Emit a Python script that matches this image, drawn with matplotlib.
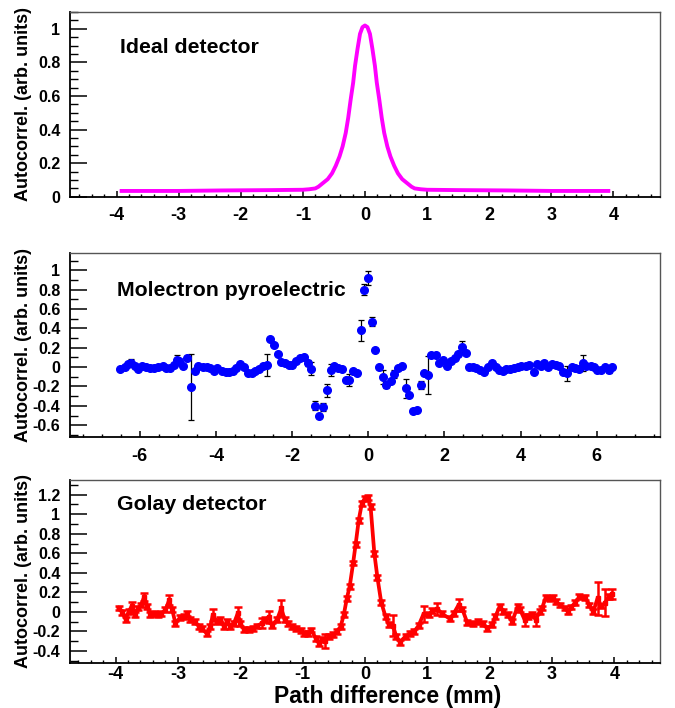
import matplotlib.pyplot as plt
from matplotlib.ticker import MultipleLocator, FormatStrFormatter

plt.rcParams['font.family'] = ['Liberation Sans', 'DejaVu Sans']
plt.rcParams['font.weight'] = 'bold'

# ideal detector
ideal_x = [-3.95, -3.0, -2.3, -1.5, -1.0, -0.9, -0.8, -0.75, -0.7, -0.65, -0.6, -0.53, -0.47,
           -0.41, -0.36, -0.31, -0.27, -0.23, -0.19, -0.16, -0.12, -0.08, -0.04, 0.0,
           0.04, 0.08, 0.12, 0.16, 0.19, 0.23, 0.27, 0.31, 0.36, 0.41, 0.47, 0.53, 0.6,
           0.65, 0.7, 0.75, 0.8, 0.9, 1.0, 1.5, 2.3, 3.0, 3.95]
ideal_y = [0.035, 0.035, 0.038, 0.04, 0.042, 0.045, 0.05, 0.06, 0.075, 0.09, 0.105, 0.14, 0.185,
           0.24, 0.30, 0.38, 0.47, 0.58, 0.68, 0.78, 0.88, 0.97, 1.01, 1.02,
           1.01, 0.97, 0.88, 0.78, 0.68, 0.58, 0.47, 0.38, 0.30, 0.24, 0.185, 0.14, 0.105,
           0.09, 0.075, 0.06, 0.05, 0.045, 0.042, 0.04, 0.038, 0.035, 0.035]

# Molectron pyroelectric
mol_x = [-6.51, -6.39, -6.30, -6.23, -6.12, -6.04, -5.94, -5.83, -5.73, -5.62, -5.51, -5.40,
         -5.30, -5.21, -5.09, -5.03, -4.96, -4.85, -4.75, -4.64, -4.55, -4.46, -4.34, -4.24,
         -4.15, -4.06, -3.96, -3.85, -3.74, -3.65, -3.54, -3.46, -3.37, -3.26, -3.16, -3.06,
         -2.97, -2.86, -2.76, -2.67, -2.58, -2.47, -2.38, -2.29, -2.19, -2.08, -1.99, -1.90,
         -1.79, -1.69, -1.59, -1.49, -1.40, -1.29, -1.19, -1.09, -0.99, -0.89, -0.79, -0.70,
         -0.59, -0.51, -0.41, -0.30, -0.20, -0.10, 0.00, 0.09, 0.18, 0.29, 0.38, 0.48,
         0.59, 0.68, 0.79, 0.88, 0.98, 1.08, 1.17, 1.27, 1.38, 1.47, 1.57, 1.66,
         1.77, 1.86, 1.97, 2.06, 2.17, 2.27, 2.36, 2.46, 2.56, 2.65, 2.76, 2.84,
         2.93, 3.04, 3.15, 3.26, 3.36, 3.44, 3.54, 3.63, 3.73, 3.82, 3.92, 4.02,
         4.13, 4.23, 4.34, 4.44, 4.54, 4.62, 4.72, 4.83, 4.92, 5.01, 5.12, 5.22,
         5.34, 5.44, 5.53, 5.63, 5.73, 5.84, 5.92, 6.02, 6.12, 6.23, 6.32, 6.41]
mol_y = [-0.02, 0.0, 0.03, 0.04, 0.01, -0.02, 0.01, 0.0, -0.01, -0.01, 0.0, 0.01,
         -0.01, -0.01, 0.02, 0.07, 0.065, 0.01, 0.09, -0.21, -0.04, 0.01, 0.0, 0.0,
         -0.01, -0.04, -0.01, -0.04, -0.055, -0.055, -0.04, -0.01, 0.03, 0.0, -0.065, -0.06,
         -0.04, -0.015, 0.01, 0.02, 0.29, 0.23, 0.14, 0.055, 0.04, 0.02, 0.02, 0.065,
         0.09, 0.10, 0.04, -0.015, -0.40, -0.51, -0.415, -0.24, -0.03, 0.01, -0.005, -0.015,
         -0.135, -0.135, -0.04, -0.065, 0.38, 0.80, 0.92, 0.47, 0.18, 0.0, -0.105, -0.18,
         -0.14, -0.07, -0.01, 0.01, -0.22, -0.29, -0.45, -0.44, -0.185, -0.065, -0.08, 0.125,
         0.125, 0.045, 0.07, 0.015, 0.065, 0.09, 0.135, 0.21, 0.15, 0.0, 0.0, -0.01,
         -0.03, -0.05, 0.0, 0.045, 0.0, -0.025, -0.04, -0.02, -0.015, -0.01, 0.0, 0.01,
         0.01, 0.02, -0.05, 0.03, 0.01, 0.04, 0.0, 0.03, 0.02, 0.01, -0.05, -0.065,
         0.0, -0.01, -0.015, 0.04, 0.01, 0.01, 0.0, -0.03, -0.03, 0.0, -0.03, 0.0]
mol_err = [0.015, 0.015, 0.02, 0.04, 0.015, 0.015, 0.015, 0.02, 0.015, 0.015, 0.02, 0.015,
           0.015, 0.02, 0.015, 0.05, 0.02, 0.015, 0.02, 0.34, 0.015, 0.015, 0.015, 0.015,
           0.015, 0.015, 0.015, 0.015, 0.015, 0.015, 0.015, 0.015, 0.015, 0.015, 0.015, 0.015,
           0.015, 0.015, 0.015, 0.115, 0.015, 0.015, 0.015, 0.015, 0.015, 0.015, 0.015, 0.015,
           0.015, 0.015, 0.03, 0.07, 0.045, 0.02, 0.04, 0.065, 0.06, 0.015, 0.015, 0.015,
           0.02, 0.06, 0.015, 0.015, 0.11, 0.06, 0.07, 0.05, 0.015, 0.015, 0.07, 0.035,
           0.015, 0.04, 0.015, 0.015, 0.10, 0.015, 0.015, 0.015, 0.045, 0.015, 0.195, 0.015,
           0.015, 0.015, 0.015, 0.015, 0.015, 0.015, 0.015, 0.06, 0.015, 0.015, 0.02, 0.015,
           0.015, 0.015, 0.015, 0.02, 0.015, 0.015, 0.02, 0.015, 0.02, 0.015, 0.015, 0.015,
           0.02, 0.015, 0.015, 0.015, 0.015, 0.02, 0.015, 0.015, 0.015, 0.015, 0.015, 0.075,
           0.015, 0.02, 0.015, 0.08, 0.015, 0.015, 0.015, 0.015, 0.015, 0.015, 0.03, 0.015]

# Golay detector
gol_x = [-3.95, -3.89, -3.84, -3.79, -3.74, -3.69, -3.64, -3.59, -3.54, -3.49, -3.44, -3.38,
         -3.32, -3.27, -3.20, -3.14, -3.09, -3.04, -2.96, -2.90, -2.85, -2.80, -2.73, -2.66,
         -2.61, -2.54, -2.48, -2.44, -2.38, -2.32, -2.26, -2.21, -2.16, -2.10, -2.04, -2.00,
         -1.94, -1.86, -1.79, -1.73, -1.65, -1.60, -1.54, -1.49, -1.41, -1.34, -1.29, -1.24,
         -1.17, -1.10, -1.03, -0.97, -0.92, -0.86, -0.79, -0.74, -0.69, -0.64, -0.58, -0.51,
         -0.45, -0.39, -0.34, -0.29, -0.245, -0.19, -0.15, -0.10, -0.05, 0.0, 0.045, 0.09,
         0.15, 0.20, 0.26, 0.33, 0.38, 0.45, 0.50, 0.56, 0.65, 0.73, 0.79, 0.86,
         0.94, 1.02, 1.08, 1.16, 1.24, 1.36, 1.42, 1.50, 1.56, 1.64, 1.74, 1.82,
         1.90, 1.96, 2.04, 2.09, 2.16, 2.22, 2.29, 2.36, 2.45, 2.49, 2.56, 2.62,
         2.68, 2.74, 2.80, 2.84, 2.90, 2.96, 3.01, 3.06, 3.13, 3.20, 3.26, 3.31,
         3.37, 3.44, 3.53, 3.60, 3.66, 3.73, 3.79, 3.85, 3.91, 3.96]
gol_y = [0.04, -0.005, -0.075, 0.0, 0.06, -0.03, 0.04, 0.07, 0.155, 0.055, -0.03, -0.015,
         -0.03, -0.02, 0.02, 0.12, 0.02, -0.115, -0.055, -0.05, -0.02, -0.08, -0.10, -0.15,
         -0.17, -0.22, -0.15, -0.03, -0.10, -0.08, -0.15, -0.10, -0.15, -0.115, -0.015, -0.115,
         -0.18, -0.18, -0.17, -0.145, -0.115, -0.08, -0.05, -0.135, -0.08, 0.04, -0.08, -0.115,
         -0.15, -0.17, -0.19, -0.22, -0.22, -0.185, -0.27, -0.32, -0.28, -0.30, -0.25, -0.235,
         -0.20, -0.15, -0.03, 0.14, 0.26, 0.50, 0.69, 0.94, 1.11, 1.165, 1.175, 1.08,
         0.60, 0.35, 0.10, -0.05, -0.13, -0.14, -0.25, -0.31, -0.25, -0.22, -0.20, -0.14,
         -0.02, -0.03, 0.01, 0.03, -0.02, -0.07, -0.02, 0.07, 0.03, -0.11, -0.12, -0.10,
         -0.12, -0.17, -0.13, -0.05, 0.055, 0.0, -0.03, -0.10, 0.06, 0.02, -0.08, -0.05,
         -0.03, -0.08, 0.0, 0.04, 0.15, 0.14, 0.15, 0.105, 0.07, 0.04, 0.0, 0.05,
         0.095, 0.155, 0.15, 0.07, 0.0, 0.14, 0.06, 0.095, 0.155, 0.185]
gol_err = [0.025, 0.025, 0.025, 0.025, 0.04, 0.025, 0.025, 0.025, 0.04, 0.025, 0.025, 0.025,
           0.025, 0.025, 0.025, 0.05, 0.025, 0.025, 0.025, 0.025, 0.025, 0.025, 0.025, 0.025,
           0.025, 0.025, 0.025, 0.06, 0.025, 0.025, 0.025, 0.025, 0.025, 0.025, 0.06, 0.025,
           0.025, 0.025, 0.025, 0.025, 0.05, 0.025, 0.06, 0.025, 0.025, 0.08, 0.025, 0.025,
           0.025, 0.025, 0.025, 0.025, 0.025, 0.025, 0.025, 0.025, 0.025, 0.07, 0.025, 0.025,
           0.025, 0.025, 0.025, 0.025, 0.025, 0.025, 0.025, 0.025, 0.025, 0.025, 0.025, 0.025,
           0.025, 0.025, 0.025, 0.025, 0.025, 0.11, 0.025, 0.025, 0.025, 0.025, 0.025, 0.025,
           0.08, 0.025, 0.025, 0.06, 0.025, 0.025, 0.025, 0.06, 0.025, 0.025, 0.025, 0.025,
           0.025, 0.025, 0.025, 0.025, 0.025, 0.025, 0.025, 0.025, 0.025, 0.025, 0.06, 0.025,
           0.025, 0.06, 0.025, 0.025, 0.025, 0.025, 0.025, 0.025, 0.025, 0.025, 0.025, 0.025,
           0.025, 0.025, 0.025, 0.025, 0.025, 0.17, 0.025, 0.14, 0.025, 0.05]

fig = plt.figure(figsize=(6.75, 7.08), dpi=100)
ax1 = fig.add_axes([0.1037, 0.722, 0.874, 0.261])
ax2 = fig.add_axes([0.1037, 0.383, 0.874, 0.260])
ax3 = fig.add_axes([0.1037, 0.064, 0.874, 0.258])


def root_style(ax, xmaj, xmin, ymaj, ymin, xpad=8):
    ax.xaxis.set_major_locator(MultipleLocator(xmaj))
    ax.xaxis.set_minor_locator(MultipleLocator(xmin))
    ax.yaxis.set_major_locator(MultipleLocator(ymaj))
    ax.yaxis.set_minor_locator(MultipleLocator(ymin))
    ax.yaxis.set_major_formatter(FormatStrFormatter('%g'))
    ax.xaxis.set_major_formatter(FormatStrFormatter('%g'))
    ax.tick_params(axis='y', which='major', direction='in', length=12, width=1.1,
                   labelsize=11.5, pad=7)
    ax.tick_params(axis='y', which='minor', direction='in', length=6, width=1.0)
    ax.tick_params(axis='x', which='major', direction='in', length=4.5, width=1.1,
                   labelsize=13, pad=xpad)
    ax.tick_params(axis='x', which='minor', direction='in', length=2.3, width=1.0)
    for s in ['top', 'right']:
        ax.spines[s].set_color('#555555')
        ax.spines[s].set_linewidth(1.0)
    for s in ['left', 'bottom']:
        ax.spines[s].set_linewidth(1.3)
    ax.set_ylabel('Autocorrel. (arb. units)', fontsize=13, fontweight='bold')
    ax.yaxis.set_label_coords(-0.064, 0.5)


# top panel
ax1.plot(ideal_x, ideal_y, color='#ff00ff', lw=2.8, solid_capstyle='butt')
ax1.set_xlim(-4.75, 4.75)
ax1.set_ylim(0, 1.1)
root_style(ax1, 1, 0.2, 0.2, 0.05, xpad=7)
ax1.text(-3.95, 0.89, 'Ideal detector', fontsize=15.3, fontweight='bold', va='center')

# middle panel
ax2.errorbar(mol_x, mol_y, yerr=mol_err, fmt='o', color='blue', ms=5.5,
             ecolor='black', elinewidth=0.9, capsize=2.5, capthick=0.9)
ax2.set_xlim(-7.83, 7.66)
ax2.set_ylim(-0.72, 1.18)
root_style(ax2, 2, 0.5, 0.2, 0.1)
ax2.text(-6.6, 0.79, 'Molectron pyroelectric', fontsize=15.3, fontweight='bold', va='center')

# bottom panel
ax3.errorbar(gol_x, gol_y, yerr=gol_err, fmt='-s', color='red', lw=2.7, ms=3,
             elinewidth=1.8, capsize=2.8, capthick=1.8)
ax3.set_xlim(-4.73, 4.73)
ax3.set_ylim(-0.52, 1.35)
root_style(ax3, 1, 0.2, 0.2, 0.1, xpad=2.5)
ax3.text(-3.98, 1.10, 'Golay detector', fontsize=15.3, fontweight='bold', va='center')
ax3.set_xlabel('Path difference (mm)', fontsize=16.5, fontweight='bold')
ax3.xaxis.set_label_coords(0.539, -0.12)

fig.savefig('out.png', dpi=100)
